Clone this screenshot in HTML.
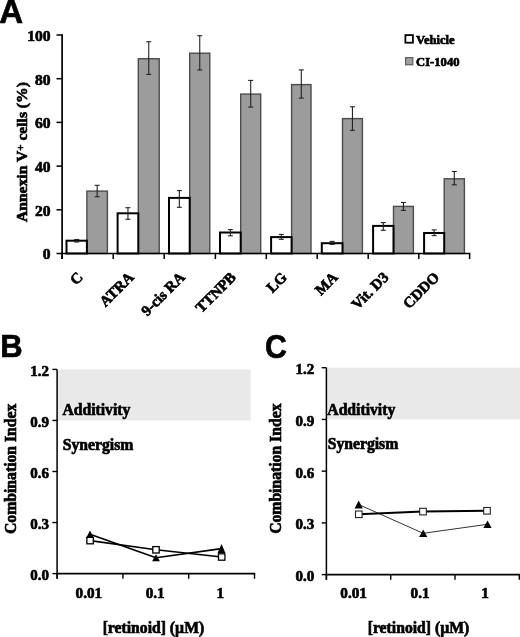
<!DOCTYPE html>
<html><head><meta charset="utf-8"><style>
html,body{margin:0;padding:0;background:#fff;}
body{width:520px;height:637px;overflow:hidden;}
svg{display:block;filter:grayscale(1);}
text{stroke:#000;stroke-width:0.65px;}
</style></head><body>
<svg width="520" height="637" viewBox="0 0 520 637">
<rect width="520" height="637" fill="#fff"/>
<text x="-0.70" y="23.00" font-size="33" text-anchor="start" font-family='"Liberation Sans", sans-serif' font-weight="bold" >A</text>
<rect x="86.90" y="191.10" width="20.50" height="62.40" fill="#9c9c9c" stroke="#4c4c4c" stroke-width="1.4"/>
<rect x="66.50" y="240.70" width="20.40" height="12.80" fill="#fff" stroke="#000" stroke-width="2"/>
<rect x="138.30" y="58.70" width="20.90" height="194.80" fill="#9c9c9c" stroke="#4c4c4c" stroke-width="1.4"/>
<rect x="117.60" y="213.30" width="20.70" height="40.20" fill="#fff" stroke="#000" stroke-width="2"/>
<rect x="189.70" y="53.20" width="20.10" height="200.30" fill="#9c9c9c" stroke="#4c4c4c" stroke-width="1.4"/>
<rect x="169.00" y="197.90" width="20.70" height="55.60" fill="#fff" stroke="#000" stroke-width="2"/>
<rect x="240.70" y="94.10" width="20.00" height="159.40" fill="#9c9c9c" stroke="#4c4c4c" stroke-width="1.4"/>
<rect x="220.00" y="232.50" width="20.70" height="21.00" fill="#fff" stroke="#000" stroke-width="2"/>
<rect x="291.60" y="84.60" width="19.40" height="168.90" fill="#9c9c9c" stroke="#4c4c4c" stroke-width="1.4"/>
<rect x="271.10" y="237.10" width="20.50" height="16.40" fill="#fff" stroke="#000" stroke-width="2"/>
<rect x="342.50" y="118.60" width="19.90" height="134.90" fill="#9c9c9c" stroke="#4c4c4c" stroke-width="1.4"/>
<rect x="321.80" y="243.20" width="20.70" height="10.30" fill="#fff" stroke="#000" stroke-width="2"/>
<rect x="393.50" y="206.40" width="19.90" height="47.10" fill="#9c9c9c" stroke="#4c4c4c" stroke-width="1.4"/>
<rect x="373.10" y="225.90" width="20.40" height="27.60" fill="#fff" stroke="#000" stroke-width="2"/>
<rect x="444.20" y="178.80" width="20.20" height="74.70" fill="#9c9c9c" stroke="#4c4c4c" stroke-width="1.4"/>
<rect x="424.10" y="233.00" width="20.10" height="20.50" fill="#fff" stroke="#000" stroke-width="2"/>
<line x1="76.70" y1="239.50" x2="76.70" y2="242.00" stroke="#222" stroke-width="1.1"/>
<line x1="74.20" y1="239.50" x2="79.20" y2="239.50" stroke="#222" stroke-width="1.1"/>
<line x1="74.20" y1="242.00" x2="79.20" y2="242.00" stroke="#222" stroke-width="1.1"/>
<line x1="97.15" y1="185.30" x2="97.15" y2="196.70" stroke="#222" stroke-width="1.1"/>
<line x1="94.65" y1="185.30" x2="99.65" y2="185.30" stroke="#222" stroke-width="1.1"/>
<line x1="94.65" y1="196.70" x2="99.65" y2="196.70" stroke="#222" stroke-width="1.1"/>
<line x1="127.95" y1="207.70" x2="127.95" y2="219.30" stroke="#222" stroke-width="1.1"/>
<line x1="125.45" y1="207.70" x2="130.45" y2="207.70" stroke="#222" stroke-width="1.1"/>
<line x1="125.45" y1="219.30" x2="130.45" y2="219.30" stroke="#222" stroke-width="1.1"/>
<line x1="148.75" y1="41.70" x2="148.75" y2="74.40" stroke="#222" stroke-width="1.1"/>
<line x1="146.25" y1="41.70" x2="151.25" y2="41.70" stroke="#222" stroke-width="1.1"/>
<line x1="146.25" y1="74.40" x2="151.25" y2="74.40" stroke="#222" stroke-width="1.1"/>
<line x1="179.35" y1="190.60" x2="179.35" y2="207.30" stroke="#222" stroke-width="1.1"/>
<line x1="176.85" y1="190.60" x2="181.85" y2="190.60" stroke="#222" stroke-width="1.1"/>
<line x1="176.85" y1="207.30" x2="181.85" y2="207.30" stroke="#222" stroke-width="1.1"/>
<line x1="199.75" y1="35.70" x2="199.75" y2="70.00" stroke="#222" stroke-width="1.1"/>
<line x1="197.25" y1="35.70" x2="202.25" y2="35.70" stroke="#222" stroke-width="1.1"/>
<line x1="197.25" y1="70.00" x2="202.25" y2="70.00" stroke="#222" stroke-width="1.1"/>
<line x1="230.35" y1="229.60" x2="230.35" y2="235.80" stroke="#222" stroke-width="1.1"/>
<line x1="227.85" y1="229.60" x2="232.85" y2="229.60" stroke="#222" stroke-width="1.1"/>
<line x1="227.85" y1="235.80" x2="232.85" y2="235.80" stroke="#222" stroke-width="1.1"/>
<line x1="250.70" y1="80.40" x2="250.70" y2="107.10" stroke="#222" stroke-width="1.1"/>
<line x1="248.20" y1="80.40" x2="253.20" y2="80.40" stroke="#222" stroke-width="1.1"/>
<line x1="248.20" y1="107.10" x2="253.20" y2="107.10" stroke="#222" stroke-width="1.1"/>
<line x1="281.35" y1="234.40" x2="281.35" y2="239.30" stroke="#222" stroke-width="1.1"/>
<line x1="278.85" y1="234.40" x2="283.85" y2="234.40" stroke="#222" stroke-width="1.1"/>
<line x1="278.85" y1="239.30" x2="283.85" y2="239.30" stroke="#222" stroke-width="1.1"/>
<line x1="301.30" y1="69.90" x2="301.30" y2="98.10" stroke="#222" stroke-width="1.1"/>
<line x1="298.80" y1="69.90" x2="303.80" y2="69.90" stroke="#222" stroke-width="1.1"/>
<line x1="298.80" y1="98.10" x2="303.80" y2="98.10" stroke="#222" stroke-width="1.1"/>
<line x1="332.15" y1="241.40" x2="332.15" y2="244.40" stroke="#222" stroke-width="1.1"/>
<line x1="329.65" y1="241.40" x2="334.65" y2="241.40" stroke="#222" stroke-width="1.1"/>
<line x1="329.65" y1="244.40" x2="334.65" y2="244.40" stroke="#222" stroke-width="1.1"/>
<line x1="352.45" y1="106.80" x2="352.45" y2="130.30" stroke="#222" stroke-width="1.1"/>
<line x1="349.95" y1="106.80" x2="354.95" y2="106.80" stroke="#222" stroke-width="1.1"/>
<line x1="349.95" y1="130.30" x2="354.95" y2="130.30" stroke="#222" stroke-width="1.1"/>
<line x1="383.30" y1="222.60" x2="383.30" y2="230.30" stroke="#222" stroke-width="1.1"/>
<line x1="380.80" y1="222.60" x2="385.80" y2="222.60" stroke="#222" stroke-width="1.1"/>
<line x1="380.80" y1="230.30" x2="385.80" y2="230.30" stroke="#222" stroke-width="1.1"/>
<line x1="403.45" y1="202.50" x2="403.45" y2="210.40" stroke="#222" stroke-width="1.1"/>
<line x1="400.95" y1="202.50" x2="405.95" y2="202.50" stroke="#222" stroke-width="1.1"/>
<line x1="400.95" y1="210.40" x2="405.95" y2="210.40" stroke="#222" stroke-width="1.1"/>
<line x1="434.15" y1="229.90" x2="434.15" y2="235.60" stroke="#222" stroke-width="1.1"/>
<line x1="431.65" y1="229.90" x2="436.65" y2="229.90" stroke="#222" stroke-width="1.1"/>
<line x1="431.65" y1="235.60" x2="436.65" y2="235.60" stroke="#222" stroke-width="1.1"/>
<line x1="454.30" y1="171.50" x2="454.30" y2="184.80" stroke="#222" stroke-width="1.1"/>
<line x1="451.80" y1="171.50" x2="456.80" y2="171.50" stroke="#222" stroke-width="1.1"/>
<line x1="451.80" y1="184.80" x2="456.80" y2="184.80" stroke="#222" stroke-width="1.1"/>
<line x1="62.10" y1="34.30" x2="62.10" y2="259.10" stroke="#000" stroke-width="1.7"/>
<line x1="61.30" y1="253.50" x2="470.40" y2="253.50" stroke="#000" stroke-width="1.7"/>
<line x1="56.50" y1="253.50" x2="62.10" y2="253.50" stroke="#000" stroke-width="1.5"/>
<text x="50.60" y="259.30" font-size="15.6" text-anchor="end" font-family='"Liberation Serif", serif' font-weight="bold" >0</text>
<line x1="56.50" y1="209.80" x2="62.10" y2="209.80" stroke="#000" stroke-width="1.5"/>
<text x="50.60" y="215.60" font-size="15.6" text-anchor="end" font-family='"Liberation Serif", serif' font-weight="bold" >20</text>
<line x1="56.50" y1="166.10" x2="62.10" y2="166.10" stroke="#000" stroke-width="1.5"/>
<text x="50.60" y="171.90" font-size="15.6" text-anchor="end" font-family='"Liberation Serif", serif' font-weight="bold" >40</text>
<line x1="56.50" y1="122.40" x2="62.10" y2="122.40" stroke="#000" stroke-width="1.5"/>
<text x="50.60" y="128.20" font-size="15.6" text-anchor="end" font-family='"Liberation Serif", serif' font-weight="bold" >60</text>
<line x1="56.50" y1="78.70" x2="62.10" y2="78.70" stroke="#000" stroke-width="1.5"/>
<text x="50.60" y="84.50" font-size="15.6" text-anchor="end" font-family='"Liberation Serif", serif' font-weight="bold" >80</text>
<line x1="56.50" y1="35.00" x2="62.10" y2="35.00" stroke="#000" stroke-width="1.5"/>
<text x="50.60" y="40.80" font-size="15.6" text-anchor="end" font-family='"Liberation Serif", serif' font-weight="bold" >100</text>
<line x1="62.10" y1="253.50" x2="62.10" y2="259.10" stroke="#000" stroke-width="1.5"/>
<line x1="113.20" y1="253.50" x2="113.20" y2="259.10" stroke="#000" stroke-width="1.5"/>
<line x1="164.20" y1="253.50" x2="164.20" y2="259.10" stroke="#000" stroke-width="1.5"/>
<line x1="215.40" y1="253.50" x2="215.40" y2="259.10" stroke="#000" stroke-width="1.5"/>
<line x1="266.30" y1="253.50" x2="266.30" y2="259.10" stroke="#000" stroke-width="1.5"/>
<line x1="317.20" y1="253.50" x2="317.20" y2="259.10" stroke="#000" stroke-width="1.5"/>
<line x1="368.20" y1="253.50" x2="368.20" y2="259.10" stroke="#000" stroke-width="1.5"/>
<line x1="418.80" y1="253.50" x2="418.80" y2="259.10" stroke="#000" stroke-width="1.5"/>
<line x1="469.60" y1="253.50" x2="469.60" y2="259.10" stroke="#000" stroke-width="1.5"/>
<text x="0" y="0" font-size="15" text-anchor="end" font-family='"Liberation Serif", serif' font-weight="bold" transform="translate(83.65,278.20) rotate(-45)">C</text>
<text x="0" y="0" font-size="15" text-anchor="end" font-family='"Liberation Serif", serif' font-weight="bold" transform="translate(134.70,278.20) rotate(-45)">ATRA</text>
<text x="0" y="0" font-size="15" text-anchor="end" font-family='"Liberation Serif", serif' font-weight="bold" transform="translate(185.80,278.20) rotate(-45)">9-cis RA</text>
<text x="0" y="0" font-size="15" text-anchor="end" font-family='"Liberation Serif", serif' font-weight="bold" transform="translate(236.85,278.20) rotate(-45)">TTNPB</text>
<text x="0" y="0" font-size="15" text-anchor="end" font-family='"Liberation Serif", serif' font-weight="bold" transform="translate(287.75,278.20) rotate(-45)">LG</text>
<text x="0" y="0" font-size="15" text-anchor="end" font-family='"Liberation Serif", serif' font-weight="bold" transform="translate(338.70,278.20) rotate(-45)">MA</text>
<text x="0" y="0" font-size="15" text-anchor="end" font-family='"Liberation Serif", serif' font-weight="bold" transform="translate(389.50,278.20) rotate(-45)">Vit. D3</text>
<text x="0" y="0" font-size="15" text-anchor="end" font-family='"Liberation Serif", serif' font-weight="bold" transform="translate(440.20,278.20) rotate(-45)">CDDO</text>
<text x="0" y="0" font-size="15.6" text-anchor="start" font-family='"Liberation Serif", serif' font-weight="bold" transform="translate(27.4,222.0) rotate(-90)">Annexin V<tspan font-size="11" dy="-3.7">+</tspan><tspan dy="3.7"> cells (%)</tspan></text>
<rect x="405.40" y="35.10" width="7.50" height="7.60" fill="#fff" stroke="#000" stroke-width="1.8"/>
<text x="416.00" y="43.60" font-size="12.6" text-anchor="start" font-family='"Liberation Serif", serif' font-weight="bold" >Vehicle</text>
<rect x="405.60" y="57.60" width="7.20" height="7.20" fill="#a0a0a0" stroke="#555" stroke-width="1.1"/>
<text x="416.10" y="65.60" font-size="12.6" text-anchor="start" font-family='"Liberation Serif", serif' font-weight="bold" >CI-1040</text>
<text x="0.20" y="357.40" font-size="31" text-anchor="start" font-family='"Liberation Sans", sans-serif' font-weight="bold" >B</text>
<text x="0" y="0" font-size="32.5" font-family='"Liberation Sans", sans-serif' font-weight="bold" transform="translate(265.0,357.9) scale(0.93,1)">C</text>
<rect x="57.70" y="369.40" width="193.00" height="51.05" fill="#e9e9e9" stroke="none" stroke-width="0"/>
<line x1="57.10" y1="369.40" x2="57.10" y2="578.80" stroke="#000" stroke-width="1.5"/>
<line x1="56.40" y1="573.60" x2="255.20" y2="573.60" stroke="#000" stroke-width="1.6"/>
<line x1="52.40" y1="369.40" x2="57.10" y2="369.40" stroke="#000" stroke-width="1.4"/>
<text x="48.90" y="375.60" font-size="15.0" text-anchor="end" font-family='"Liberation Serif", serif' font-weight="bold" >1.2</text>
<line x1="52.40" y1="420.45" x2="57.10" y2="420.45" stroke="#000" stroke-width="1.4"/>
<text x="48.90" y="426.65" font-size="15.0" text-anchor="end" font-family='"Liberation Serif", serif' font-weight="bold" >0.9</text>
<line x1="52.40" y1="471.50" x2="57.10" y2="471.50" stroke="#000" stroke-width="1.4"/>
<text x="48.90" y="477.70" font-size="15.0" text-anchor="end" font-family='"Liberation Serif", serif' font-weight="bold" >0.6</text>
<line x1="52.40" y1="522.55" x2="57.10" y2="522.55" stroke="#000" stroke-width="1.4"/>
<text x="48.90" y="528.75" font-size="15.0" text-anchor="end" font-family='"Liberation Serif", serif' font-weight="bold" >0.3</text>
<line x1="52.40" y1="573.60" x2="57.10" y2="573.60" stroke="#000" stroke-width="1.4"/>
<text x="48.90" y="579.80" font-size="15.0" text-anchor="end" font-family='"Liberation Serif", serif' font-weight="bold" >0.0</text>
<line x1="57.10" y1="573.60" x2="57.10" y2="578.80" stroke="#000" stroke-width="1.4"/>
<line x1="122.90" y1="573.60" x2="122.90" y2="578.80" stroke="#000" stroke-width="1.4"/>
<line x1="188.70" y1="573.60" x2="188.70" y2="578.80" stroke="#000" stroke-width="1.4"/>
<line x1="254.50" y1="573.60" x2="254.50" y2="578.80" stroke="#000" stroke-width="1.4"/>
<text x="62.40" y="414.70" font-size="15.7" text-anchor="start" font-family='"Liberation Serif", serif' font-weight="bold" >Additivity</text>
<text x="62.80" y="449.50" font-size="15.7" text-anchor="start" font-family='"Liberation Serif", serif' font-weight="bold" >Synergism</text>
<text x="88.90" y="597.90" font-size="15.2" text-anchor="middle" font-family='"Liberation Serif", serif' font-weight="bold" >0.01</text>
<text x="155.20" y="597.90" font-size="15.2" text-anchor="middle" font-family='"Liberation Serif", serif' font-weight="bold" >0.1</text>
<text x="220.20" y="597.90" font-size="15.2" text-anchor="middle" font-family='"Liberation Serif", serif' font-weight="bold" >1</text>
<text x="153.40" y="633.10" font-size="15.7" text-anchor="middle" font-family='"Liberation Serif", serif' font-weight="bold" >[retinoid] (µM)</text>
<text x="0" y="0" font-size="15.7" text-anchor="middle" font-family='"Liberation Serif", serif' font-weight="bold" transform="translate(15.70,468.80) rotate(-90)">Combination Index</text>
<polyline points="90.00,534.30 156.00,557.70 221.50,548.60" fill="none" stroke="#000" stroke-width="1.6" stroke-linejoin="round"/>
<polyline points="90.10,540.60 156.00,549.80 221.70,557.00" fill="none" stroke="#000" stroke-width="1.6" stroke-linejoin="round"/>
<polygon points="86.10,538.10 93.90,538.10 90.00,530.40" fill="#000"/>
<polygon points="152.10,561.20 159.90,561.20 156.00,554.20" fill="#000"/>
<polygon points="217.60,553.10 225.40,553.10 221.50,544.10" fill="#000"/>
<rect x="86.90" y="537.40" width="6.40" height="6.40" fill="#fff" stroke="#000" stroke-width="1.3"/>
<rect x="152.80" y="546.60" width="6.40" height="6.40" fill="#fff" stroke="#000" stroke-width="1.3"/>
<rect x="218.50" y="553.80" width="6.40" height="6.40" fill="#fff" stroke="#000" stroke-width="1.3"/>
<rect x="327.00" y="367.70" width="193.00" height="51.73" fill="#e9e9e9" stroke="none" stroke-width="0"/>
<line x1="326.40" y1="367.70" x2="326.40" y2="579.80" stroke="#000" stroke-width="1.5"/>
<line x1="325.70" y1="574.60" x2="520.00" y2="574.60" stroke="#000" stroke-width="1.6"/>
<line x1="321.70" y1="367.70" x2="326.40" y2="367.70" stroke="#000" stroke-width="1.4"/>
<text x="314.20" y="374.20" font-size="15.0" text-anchor="end" font-family='"Liberation Serif", serif' font-weight="bold" >1.2</text>
<line x1="321.70" y1="419.43" x2="326.40" y2="419.43" stroke="#000" stroke-width="1.4"/>
<text x="314.20" y="425.93" font-size="15.0" text-anchor="end" font-family='"Liberation Serif", serif' font-weight="bold" >0.9</text>
<line x1="321.70" y1="471.15" x2="326.40" y2="471.15" stroke="#000" stroke-width="1.4"/>
<text x="314.20" y="477.65" font-size="15.0" text-anchor="end" font-family='"Liberation Serif", serif' font-weight="bold" >0.6</text>
<line x1="321.70" y1="522.88" x2="326.40" y2="522.88" stroke="#000" stroke-width="1.4"/>
<text x="314.20" y="529.38" font-size="15.0" text-anchor="end" font-family='"Liberation Serif", serif' font-weight="bold" >0.3</text>
<line x1="321.70" y1="574.60" x2="326.40" y2="574.60" stroke="#000" stroke-width="1.4"/>
<text x="314.20" y="581.10" font-size="15.0" text-anchor="end" font-family='"Liberation Serif", serif' font-weight="bold" >0.0</text>
<line x1="326.40" y1="574.60" x2="326.40" y2="579.80" stroke="#000" stroke-width="1.4"/>
<line x1="390.70" y1="574.60" x2="390.70" y2="579.80" stroke="#000" stroke-width="1.4"/>
<line x1="455.00" y1="574.60" x2="455.00" y2="579.80" stroke="#000" stroke-width="1.4"/>
<line x1="519.30" y1="574.60" x2="519.30" y2="579.80" stroke="#000" stroke-width="1.4"/>
<text x="327.30" y="414.60" font-size="15.7" text-anchor="start" font-family='"Liberation Serif", serif' font-weight="bold" >Additivity</text>
<text x="327.70" y="448.60" font-size="15.7" text-anchor="start" font-family='"Liberation Serif", serif' font-weight="bold" >Synergism</text>
<text x="353.60" y="597.50" font-size="15.2" text-anchor="middle" font-family='"Liberation Serif", serif' font-weight="bold" >0.01</text>
<text x="420.10" y="597.50" font-size="15.2" text-anchor="middle" font-family='"Liberation Serif", serif' font-weight="bold" >0.1</text>
<text x="485.00" y="597.50" font-size="15.2" text-anchor="middle" font-family='"Liberation Serif", serif' font-weight="bold" >1</text>
<text x="418.50" y="633.10" font-size="15.7" text-anchor="middle" font-family='"Liberation Serif", serif' font-weight="bold" >[retinoid] (µM)</text>
<text x="0" y="0" font-size="15.7" text-anchor="middle" font-family='"Liberation Serif", serif' font-weight="bold" transform="translate(280.70,468.70) rotate(-90)">Combination Index</text>
<polyline points="358.70,504.50 423.20,533.30 487.50,524.30" fill="none" stroke="#333" stroke-width="1.0" stroke-linejoin="round"/>
<polyline points="358.80,514.30 423.00,511.60 487.00,510.80" fill="none" stroke="#000" stroke-width="2.0" stroke-linejoin="round"/>
<polygon points="354.60,508.60 362.80,508.60 358.70,500.40" fill="#000"/>
<polygon points="419.10,537.00 427.30,537.00 423.20,529.60" fill="#000"/>
<polygon points="483.40,528.00 491.60,528.00 487.50,520.50" fill="#000"/>
<rect x="355.50" y="511.00" width="6.60" height="6.60" fill="#fff" stroke="#222" stroke-width="1.1"/>
<rect x="419.70" y="508.30" width="6.60" height="6.60" fill="#fff" stroke="#222" stroke-width="1.1"/>
<rect x="483.70" y="507.50" width="6.60" height="6.60" fill="#fff" stroke="#222" stroke-width="1.1"/>
</svg>
</body></html>
